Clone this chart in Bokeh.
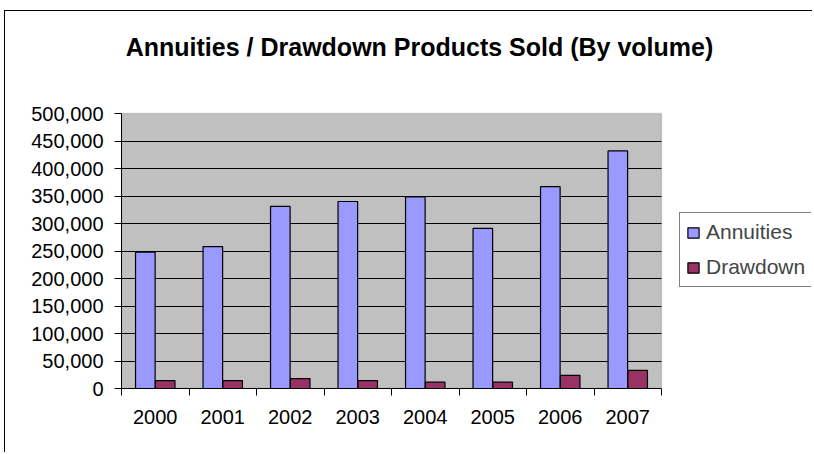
import numpy as np
from bokeh.plotting import figure
from bokeh.models import (ColumnDataSource, Range1d, FixedTicker, NumeralTickFormatter,
                          Legend, LegendItem, Label, BoxAnnotation, Grid)
from bokeh.transform import dodge
from bokeh.embed import file_html
from bokeh.resources import INLINE

years = ["2000", "2001", "2002", "2003", "2004", "2005", "2006", "2007"]
annuities = [248000, 258000, 331000, 340000, 348500, 291000, 367000, 432000]
drawdown = [14500, 14500, 18000, 14500, 11500, 11500, 24000, 33000]
y_ticks = [0, 50000, 100000, 150000, 200000, 250000, 300000, 350000, 400000, 450000, 500000]
title_text = "Annuities / Drawdown Products Sold (By volume)"

n = len(years)
y_max = y_ticks[-1]
pos = np.arange(n) + 0.5
src = ColumnDataSource(dict(pos=pos, year=years, annuities=annuities, drawdown=drawdown))

FONT = "Liberation Sans"

# layout (pixels): the frame covers the whole chart area; the grey plot area is a part of it
W, H = 808, 442
ML, MR, MT, MB = 116, 2, 2, 65
AREA_W, AREA_H = 540, 275
frame_w, frame_h = W - ML - MR, H - MT - MB
x_end = n * frame_w / AREA_W
y_end = y_max * frame_h / AREA_H

p = figure(width=W, height=H, output_backend="svg", toolbar_location=None,
           x_range=Range1d(0, x_end), y_range=Range1d(0, y_end),
           min_border_left=ML, min_border_right=MR, min_border_top=MT,
           min_border_bottom=MB, title=None)
p.styles = {"border-top": "1px solid black", "border-left": "1px solid black",
            "margin-left": "4px", "margin-top": "10px"}

p.background_fill_color = "white"
p.border_fill_color = "white"
p.outline_line_color = None

# grey plot area
p.add_layout(BoxAnnotation(left=0, right=n, bottom=0, top=y_max,
                           fill_color="#C0C0C0", fill_alpha=1,
                           line_color="#808080", line_width=1.5, level="image"))

# grid
p.xgrid.visible = False
grid_ticks = y_ticks[1:-1]
if "cross_bounds" in Grid.properties():
    p.ygrid.ticker = FixedTicker(ticks=grid_ticks)
    p.ygrid.cross_bounds = (0, n)
    p.ygrid.grid_line_color = "black"
    p.ygrid.grid_line_width = 1
else:
    p.ygrid.visible = False
    p.segment(x0=[0] * len(grid_ticks), x1=[n] * len(grid_ticks), y0=grid_ticks,
              y1=grid_ticks, line_color="black", line_width=1, level="underlay")

# y axis
yax = p.yaxis[0]
yax.ticker = FixedTicker(ticks=y_ticks)
yax.bounds = (0, y_max)
yax.formatter = NumeralTickFormatter(format="0,0")
yax.major_label_text_font = FONT
yax.major_label_text_font_size = "20px"
yax.major_label_text_color = "black"
yax.major_tick_out = 7
yax.major_tick_in = 0
yax.minor_tick_line_color = None
yax.major_label_standoff = 11
yax.axis_line_color = "black"
yax.major_tick_line_color = "black"

# x axis: labels at centres, tick marks at category boundaries
xax = p.xaxis[0]
xax.ticker = FixedTicker(ticks=list(pos), minor_ticks=list(np.arange(n + 1)))
xax.bounds = (0, n)
xax.major_label_overrides = {float(c): y for c, y in zip(pos, years)}
xax.major_tick_line_color = None
xax.major_tick_out = 7
xax.major_tick_in = 0
xax.minor_tick_out = 7
xax.minor_tick_in = 0
xax.minor_tick_line_color = "black"
xax.axis_line_color = "black"
xax.major_label_text_font = FONT
xax.major_label_text_font_size = "20px"
xax.major_label_text_color = "black"
xax.major_label_standoff = 14

bw = 0.29
r1 = p.vbar(x=dodge("pos", -0.147, range=p.x_range), top="annuities", width=bw, source=src,
            fill_color="#9999FF", line_color="black", line_width=1.2)
r2 = p.vbar(x=dodge("pos", 0.147, range=p.x_range), top="drawdown", width=bw, source=src,
            fill_color="#993366", line_color="black", line_width=1.2)

legend = Legend(items=[LegendItem(label="Annuities", renderers=[r1]),
                       LegendItem(label="Drawdown", renderers=[r2])],
                location=(558, 101), orientation="vertical",
                label_text_font=FONT, label_text_font_size="21px",
                glyph_width=14, glyph_height=13, label_standoff=6,
                label_height=26, spacing=9, padding=6, margin=0,
                border_line_color="black", border_line_width=1,
                background_fill_color="white", background_fill_alpha=1)
p.add_layout(legend, "center")

# title, centred over the chart (screen offsets from the plot area's lower-left corner)
title = Label(x=298, y=342, x_units="screen", y_units="screen", text=title_text,
              text_align="center", text_baseline="middle", text_font=FONT,
              text_font_size="25px", text_font_style="bold", text_color="black")
p.add_layout(title)

open("out.html", "w").write(file_html(p, INLINE))
